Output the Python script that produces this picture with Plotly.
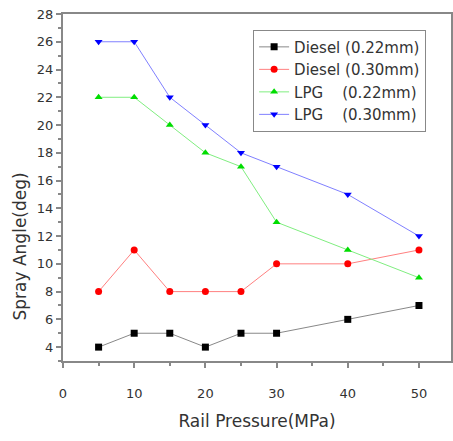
import plotly.graph_objects as go

pressure = [5, 10, 15, 20, 25, 30, 40, 50]
diesel_022 = [4, 5, 5, 4, 5, 5, 6, 7]
diesel_030 = [8, 11, 8, 8, 8, 10, 10, 11]
lpg_022 = [22, 22, 20, 18, 17, 13, 11, 9]
lpg_030 = [26, 26, 22, 20, 18, 17, 15, 12]

series = [
    ("Diesel (0.22mm)", diesel_022, "#000000", "#888888", "square"),
    ("Diesel (0.30mm)", diesel_030, "#ff0000", "#ff8080", "circle"),
    ("LPG    (0.22mm)", lpg_022, "#00dd00", "#80ee80", "triangle-up"),
    ("LPG    (0.30mm)", lpg_030, "#0000ff", "#8080ff", "triangle-down"),
]

FONT = "DejaVu Sans, Arial"

fig = go.Figure()
for name, ys, mc, lc, sym in series:
    fig.add_trace(go.Scatter(
        x=pressure, y=ys, name=name, mode="lines+markers",
        line=dict(color=lc, width=1),
        marker=dict(color=mc, symbol=sym, size=7),
    ))

axis_common = dict(
    showgrid=False, zeroline=False, showline=True, linecolor="#888888",
    linewidth=2, mirror=True, ticks="outside", tickcolor="#888888",
    ticklen=5, tickwidth=1.5,
    tickfont=dict(family=FONT, size=13, color="#333333"),
)

fig.update_layout(
    width=453, height=441,
    margin=dict(l=63, r=0, t=14, b=80),
    paper_bgcolor="white", plot_bgcolor="white",
    xaxis=dict(range=[0, 54.5], tickvals=[0, 10, 20, 30, 40, 50],
               ticklabelstandoff=14,
               minor=dict(tickvals=[5, 15, 25, 35, 45], ticks="outside", ticklen=3, tickcolor="#888888"),
               title=dict(text="Rail Pressure(MPa)", font=dict(family=FONT, size=17, color="#333333"), standoff=16),
               **axis_common),
    yaxis=dict(range=[3, 28], tickvals=list(range(4, 29, 2)),
               minor=dict(dtick=1, ticks="outside", ticklen=3, tickcolor="#888888"),
               **axis_common),
    legend=dict(x=0.49, y=0.955, xanchor="left", yanchor="top",
                bordercolor="#888888", borderwidth=1, bgcolor="white",
                font=dict(family=FONT, size=15, color="#333333"),
                tracegroupgap=0, itemwidth=30),
    showlegend=True,
)

fig.add_annotation(
    text="Spray Angle(deg)", textangle=-90, showarrow=False,
    xref="paper", yref="paper", x=0, y=0.33, xanchor="center", yanchor="middle",
    xshift=-43, font=dict(family=FONT, size=17, color="#333333"),
)

fig.write_html("out.html")
